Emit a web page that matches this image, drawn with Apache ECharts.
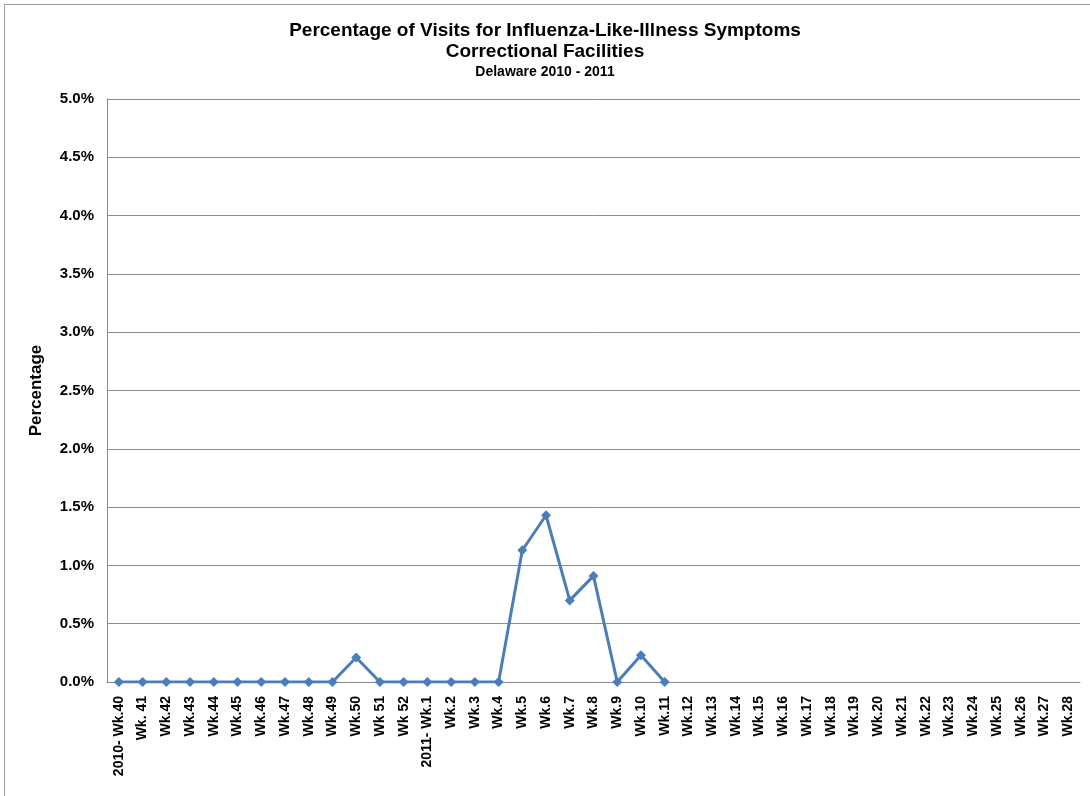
<!DOCTYPE html>
<html>
<head>
<meta charset="utf-8">
<script src="https://cdn.jsdelivr.net/npm/echarts@6/dist/echarts.min.js"></script>
<style>
  html, body { margin: 0; padding: 0; background: #fff; }
  #frame { position: absolute; left: 4px; top: 4px; width: 1100px; height: 800px; border: 1px solid #a0a0a0; box-sizing: border-box; }
  #chart { position: absolute; left: 0; top: 0; width: 1090px; height: 796px; }
</style>
</head>
<body>
<div id="frame"></div>
<div id="chart"></div>
<script>
const weeks = [
  '2010- Wk.40', 'Wk. 41', 'Wk.42', 'Wk.43', 'Wk.44', 'Wk.45', 'Wk.46', 'Wk.47', 'Wk.48', 'Wk.49',
  'Wk.50', 'Wk 51', 'Wk 52', '2011- Wk.1', 'Wk.2', 'Wk.3', 'Wk.4', 'Wk.5', 'Wk.6', 'Wk.7',
  'Wk.8', 'Wk.9', 'Wk.10', 'Wk.11', 'Wk.12', 'Wk.13', 'Wk.14', 'Wk.15', 'Wk.16', 'Wk.17',
  'Wk.18', 'Wk.19', 'Wk.20', 'Wk.21', 'Wk.22', 'Wk.23', 'Wk.24', 'Wk.25', 'Wk.26', 'Wk.27', 'Wk.28'
]

// percent of visits, null = not reported yet
const pctVisits = [
  0, 0, 0, 0, 0, 0, 0, 0, 0, 0,
  0.21, 0, 0, 0, 0, 0, 0, 1.13, 1.43, 0.70,
  0.91, 0, 0.23, 0, null, null, null, null, null, null,
  null, null, null, null, null, null, null, null, null, null, null
]

const titleLines = ['Percentage of Visits for Influenza-Like-Illness Symptoms', 'Correctional Facilities', 'Delaware 2010 - 2011']

const font = '"Liberation Sans", Arial, sans-serif'
const chart = echarts.init(document.getElementById('chart'))

chart.setOption({
  backgroundColor: 'transparent',
  animation: false,
  title: {
    text: titleLines[0] + '\n' + titleLines[1],
    subtext: titleLines[2],
    left: 'center',
    top: 15,
    itemGap: 3,
    textStyle: { fontFamily: font, fontSize: 19, fontWeight: 'bold', color: '#000', lineHeight: 21 },
    subtextStyle: { fontFamily: font, fontSize: 14, fontWeight: 'bold', color: '#000' }
  },
  grid: { left: 107, right: 10, top: 99, bottom: 114 },
  xAxis: {
    type: 'category',
    data: weeks,
    boundaryGap: true,
    axisLine: { lineStyle: { color: '#888', width: 1 } },
    axisTick: { show: false },
    axisLabel: {
      rotate: 90, interval: 0, margin: 14,
      fontFamily: font, fontSize: 14, fontWeight: 'bold', color: '#000'
    }
  },
  yAxis: {
    type: 'value',
    min: 0, max: 5, interval: 0.5,
    name: 'Percentage',
    nameLocation: 'middle',
    nameGap: 62,
    nameTextStyle: { fontFamily: font, fontSize: 17, fontWeight: 'bold', color: '#000' },
    axisLine: { show: true, lineStyle: { color: '#888', width: 1 } },
    axisTick: { show: false },
    axisLabel: {
      margin: 13,
      fontFamily: font, fontSize: 15, fontWeight: 'bold', color: '#000',
      formatter: v => v.toFixed(1) + '%'
    },
    splitLine: { lineStyle: { color: '#8c8c8c', width: 1 } }
  },
  series: [{
    type: 'line',
    data: pctVisits,
    connectNulls: false,
    symbol: 'diamond',
    symbolSize: 10,
    lineStyle: { color: '#4a7ebb', width: 3 },
    itemStyle: { color: '#4a7ebb' }
  }]
})
</script>
</body>
</html>
